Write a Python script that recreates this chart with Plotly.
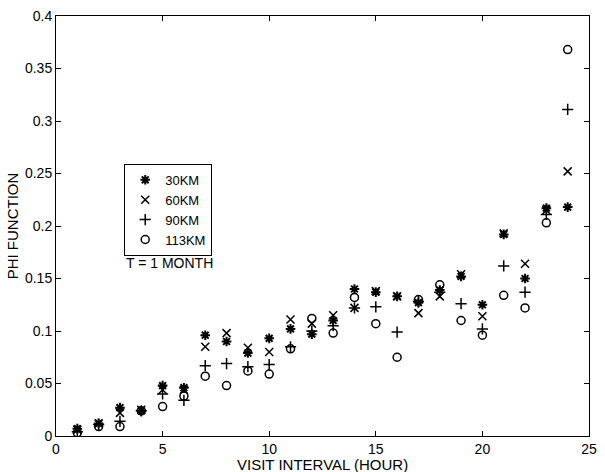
import plotly.graph_objects as go

hours = list(range(1, 25))
km30 = [0.007, 0.012, 0.027, 0.024, 0.048, 0.046, 0.096, 0.090, 0.079, 0.093, 0.102, 0.097,
        0.110, 0.140, 0.137, 0.133, 0.127, 0.139, 0.152, 0.125, 0.192, 0.150, 0.217, 0.218]
km60 = [0.006, 0.012, 0.022, 0.025, 0.044, 0.044, 0.085, 0.098, 0.084, 0.080, 0.111, 0.107,
        0.115, 0.122, 0.138, 0.133, 0.117, 0.133, 0.154, 0.114, 0.193, 0.164, 0.215, 0.252]
km90 = [0.004, 0.011, 0.014, 0.024, 0.040, 0.034, 0.067, 0.069, 0.066, 0.068, 0.085, 0.100,
        0.105, 0.122, 0.123, 0.099, 0.128, 0.137, 0.126, 0.102, 0.162, 0.137, 0.211, 0.311]
km113 = [0.003, 0.009, 0.009, 0.024, 0.028, 0.038, 0.057, 0.048, 0.062, 0.059, 0.083, 0.112,
         0.098, 0.132, 0.107, 0.075, 0.130, 0.144, 0.110, 0.096, 0.134, 0.122, 0.203, 0.368]

series = [
    ("30KM", km30, "asterisk-open", 8, 2),
    ("60KM", km60, "x-thin-open", 8, 1.5),
    ("90KM", km90, "cross-thin-open", 8, 1.5),
    ("113KM", km113, "circle-open", 8, 1.5),
]

FONT = "Liberation Sans, Arial, Helvetica, sans-serif"

fig = go.Figure()
for name, vals, sym, sz, lw in series:
    fig.add_trace(go.Scatter(
        x=hours, y=vals, mode="markers", name=name,
        marker=dict(symbol=sym, size=sz, color="black",
                    line=dict(color="black", width=lw)),
    ))

axis_common = dict(
    showline=True, linecolor="black", linewidth=1, mirror="ticks",
    ticks="inside", ticklen=5, tickcolor="black", showgrid=False, zeroline=False,
    tickfont=dict(family=FONT, size=14, color="black"),
)

fig.update_layout(
    width=605, height=472,
    margin=dict(l=56, r=8, t=13, b=36),
    paper_bgcolor="white", plot_bgcolor="white",
    font=dict(family=FONT, size=14, color="black"),
    xaxis=dict(range=[0, 25], dtick=5, tick0=0, **axis_common),
    yaxis=dict(range=[0, 0.4], dtick=0.05, tick0=0,
               title=dict(text="PHI FUNCTION", standoff=2,
                          font=dict(family=FONT, size=15)),
               **axis_common),
    legend=dict(x=0.128, y=0.648, xanchor="left", yanchor="top",
                bgcolor="white", bordercolor="black", borderwidth=1,
                font=dict(family=FONT, size=13, color="black"),
                tracegroupgap=0),
    showlegend=True,
    annotations=[
        dict(x=5.3, y=0.165, xref="x", yref="y", text="T = 1 MONTH",
             showarrow=False, font=dict(family=FONT, size=14, color="black")),
        dict(x=0.5, y=0, xref="paper", yref="paper", yshift=-28, yanchor="middle",
             text="VISIT INTERVAL (HOUR)", showarrow=False,
             font=dict(family=FONT, size=15, color="black")),
    ],
)

fig.write_html("out.html", config={"displayModeBar": False},
               post_script="document.body.style.margin='0';document.body.style.overflow='hidden';")
